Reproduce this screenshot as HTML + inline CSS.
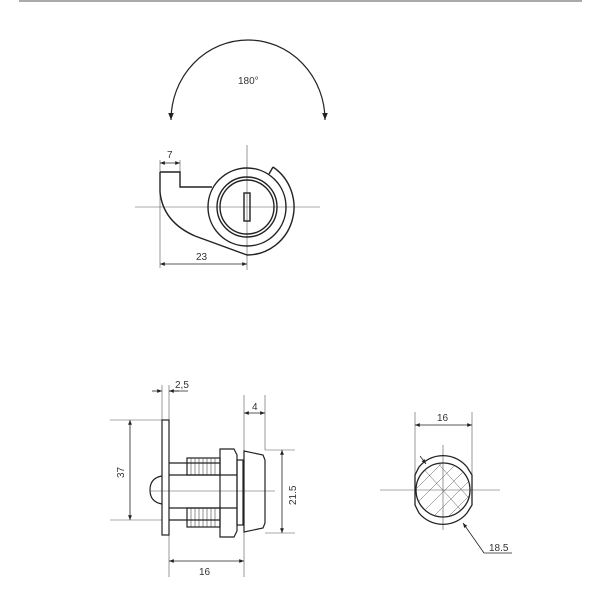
<!DOCTYPE html>
<html><head><style>body{margin:0;background:#fff}svg{display:block}</style></head><body>
<svg width="600" height="600" viewBox="0 0 600 600" xmlns="http://www.w3.org/2000/svg" font-family="Liberation Sans, sans-serif" font-size="10" fill="none" stroke="#222">
<defs>
<marker id="a" viewBox="0 0 10 10" refX="10" refY="5" markerWidth="6" markerHeight="6" orient="auto-start-reverse"><path d="M0,1 L10,5 L0,9z" fill="#222" stroke="none"/></marker>
</defs>
<line x1="19" y1="1" x2="582" y2="1" stroke="#aaa" stroke-width="2"/>
<!-- 180 arc -->
<path d="M171,120 A77,80 0 0 1 325,120" stroke-width="1.2" marker-start="url(#a)" marker-end="url(#a)"/>
<text x="238" y="84" fill="#333" stroke="none">180°</text>
<!-- top view -->
<g stroke-width="0.6" stroke="#555">
<line x1="135" y1="207" x2="320" y2="207"/>
<line x1="247" y1="145" x2="247" y2="270"/>
<line x1="160" y1="160" x2="160" y2="268"/>
<line x1="180" y1="160" x2="180" y2="172"/>
</g>
<g stroke-width="0.8">
<line x1="160" y1="163" x2="180" y2="163" marker-start="url(#a)" marker-end="url(#a)"/>
<line x1="160" y1="264" x2="247" y2="264" marker-start="url(#a)" marker-end="url(#a)"/>
</g>
<text x="167" y="158" fill="#333" stroke="none">7</text>
<text x="196" y="260" fill="#333" stroke="none">23</text>
<g stroke-width="1.4">
<path d="M160,172 L180,172 L180,187 L212,187"/>
<path d="M160,172 L160,192 Q163,222 195,236 L247,255"/>
<circle cx="247" cy="207" r="39"/>
<circle cx="247" cy="207" r="30"/>
<circle cx="247" cy="207" r="27"/>
<path d="M273,167 A47,48 0 0 1 247,255"/>
<line x1="273" y1="167" x2="269" y2="174"/>
<rect x="244" y="193" width="6" height="28"/>
</g>
<!-- side view -->
<g stroke-width="0.6" stroke="#555">
<line x1="110" y1="420" x2="162" y2="420"/>
<line x1="110" y1="520" x2="162" y2="520"/>
<line x1="162" y1="385" x2="162" y2="420"/>
<line x1="169" y1="385" x2="169" y2="420"/>
<line x1="169" y1="535" x2="169" y2="577"/>
<line x1="244" y1="395" x2="244" y2="577"/>
<line x1="265" y1="395" x2="265" y2="450"/>
<line x1="265" y1="450" x2="295" y2="450"/>
<line x1="265" y1="533" x2="295" y2="533"/>
<line x1="150" y1="491" x2="275" y2="491"/>
</g>
<g stroke-width="0.8">
<line x1="130" y1="420" x2="130" y2="520" marker-start="url(#a)" marker-end="url(#a)"/>
<line x1="152" y1="391" x2="162" y2="391" marker-end="url(#a)"/>
<line x1="179" y1="391" x2="169" y2="391" marker-end="url(#a)"/>
<line x1="169" y1="391" x2="188" y2="391"/>
<line x1="244" y1="413" x2="265" y2="413" marker-start="url(#a)" marker-end="url(#a)"/>
<line x1="282" y1="450" x2="282" y2="533" marker-start="url(#a)" marker-end="url(#a)"/>
<line x1="169" y1="561" x2="244" y2="561" marker-start="url(#a)" marker-end="url(#a)"/>
</g>
<text x="175" y="388" fill="#333" stroke="none">2,5</text>
<text x="252" y="410" fill="#333" stroke="none">4</text>
<text x="199" y="575" fill="#333" stroke="none">16</text>
<text transform="translate(124,478) rotate(-90)" fill="#333" stroke="none">37</text>
<text transform="translate(296,505) rotate(-90)" fill="#333" stroke="none">21.5</text>
<g stroke-width="1.2">
<rect x="162" y="420" width="7" height="115"/>
<path d="M162,476 Q150,478 150,490 Q150,502 162,504"/>
<path d="M169,463 L220,463 M169,475 L220,475 M169,508 L220,508 M169,520 L220,520"/>
<rect x="187" y="458" width="33" height="17"/>
<rect x="187" y="508" width="33" height="19"/>
<path d="M220,449 L234,449 L237,455 L237,531 L234,537 L220,537 Z"/>
<line x1="220" y1="475" x2="237" y2="475"/><line x1="220" y1="508" x2="237" y2="508"/>
<rect x="237" y="460" width="6" height="65"/>
<path d="M244,451 L263,455 L265,460 L265,523 L263,528 L244,532 Z"/>
</g>
<g stroke-width="0.5">
<path d="M191,458v17M195,458v17M199,458v17M203,458v17M207,458v17M211,458v17M215,458v17"/>
<path d="M191,508v19M195,508v19M199,508v19M203,508v19M207,508v19M211,508v19M215,508v19"/>
</g>
<!-- right view -->
<defs><clipPath id="c"><circle cx="443" cy="490" r="27"/></clipPath></defs>
<g stroke-width="0.6" stroke="#555">
<line x1="380" y1="490" x2="500" y2="490"/>
<line x1="443" y1="445" x2="443" y2="530"/>
<line x1="415" y1="412" x2="415" y2="490"/>
<line x1="472" y1="412" x2="472" y2="490"/>
</g>
<line x1="415" y1="425" x2="472" y2="425" stroke-width="0.8" marker-start="url(#a)" marker-end="url(#a)"/>
<text x="437" y="421" fill="#333" stroke="none">16</text>
<g stroke-width="1.3">
<path d="M419,467 A31,31 0 0 1 467,467 L472,475 L472,505 L467,513 A31,31 0 0 1 419,513 L415,505 L415,475 Z"/>
<circle cx="443" cy="490" r="27"/>
</g>
<g clip-path="url(#c)" stroke-width="0.5" stroke="#555">
<path d="M400,490 L440,450 M405,500 L455,450 M410,510 L470,450 M415,520 L475,460 M425,525 L480,470 M440,525 L480,485 M455,525 L485,495"/>
<path d="M420,465 L470,520 M435,460 L475,505"/>
</g>
<line x1="420" y1="456" x2="426" y2="464" stroke-width="0.8" marker-end="url(#a)"/>
<path d="M484,553 L463,523" stroke-width="0.8" marker-end="url(#a)"/>
<line x1="484" y1="553" x2="512" y2="553" stroke-width="0.8"/>
<text x="489" y="551" fill="#333" stroke="none">18.5</text>
</svg>
</body></html>
